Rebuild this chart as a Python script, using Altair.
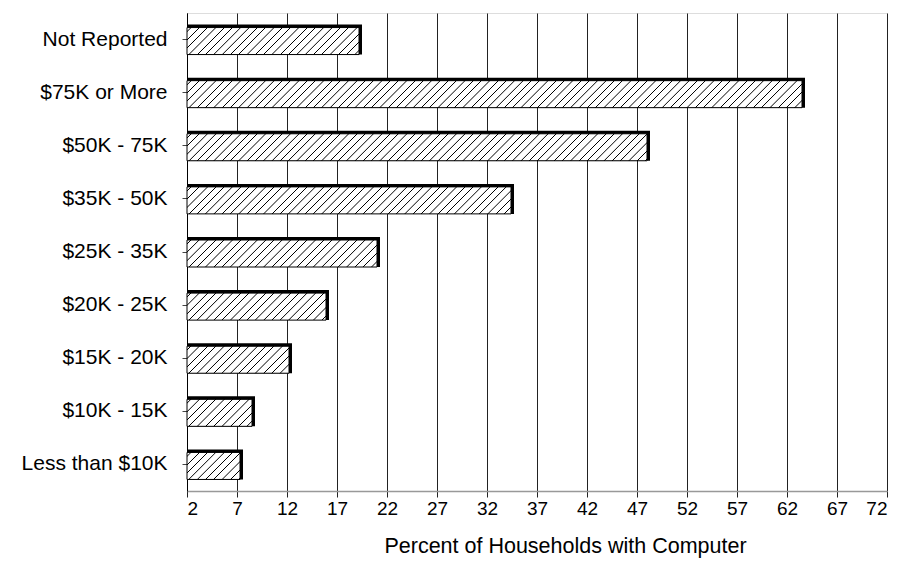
import altair as alt
import pandas as pd

# ---- data ----
categories = ["Not Reported", "$75K or More", "$50K - 75K", "$35K - 50K",
              "$25K - 35K", "$20K - 25K", "$15K - 20K", "$10K - 15K",
              "Less than $10K"]
values = [19.5, 63.8, 48.3, 34.7, 21.3, 16.2, 12.5, 8.8, 7.6]
tick_values = [2, 7, 12, 17, 22, 27, 32, 37, 42, 47, 52, 57, 62, 67, 72]

df = pd.DataFrame({"cat": categories, "v": values})

PLOT_W = 700
PLOT_H = 478
X_MIN, X_MAX = 2, 72
SHADOW = 3
BAR_H = 30
FONT = "Liberation Sans"


def hatch_gradient(value):
    """Diagonal '/' hatch built as a striped linear gradient for one bar."""
    W = (value - X_MIN) / (X_MAX - X_MIN) * PLOT_W - SHADOW
    H = BAR_H - SHADOW
    r = H / W
    k = (1 + r) / (1 + r * r)
    total = W + H
    period = 8.3
    stops = [alt.GradientStop(offset=0, color="white")]
    c = 4.0
    last = 0.0
    while c + 0.8 < total:
        for off, col in [(c - 0.75, "white"), (c - 0.25, "black"),
                         (c + 0.25, "black"), (c + 0.75, "white")]:
            o = max(off / total, last)
            stops.append(alt.GradientStop(offset=o, color=col))
            last = o
        c += period
    stops.append(alt.GradientStop(offset=1, color="white"))
    return alt.LinearGradient(gradient="linear", stops=stops,
                              x1=0, y1=0, x2=k, y2=k * r)


x_enc = alt.X("v:Q",
              scale=alt.Scale(domain=[X_MIN, X_MAX], nice=False, zero=False),
              axis=alt.Axis(values=tick_values,
                            title="Percent of Households with Computer",
                            grid=True, gridColor="#222", gridWidth=1,
                            gridOpacity=1,
                            domainColor="#999", domainWidth=1.5,
                            tickColor="#222", tickSize=6,
                            labelFont=FONT, labelFontSize=19,
                            labelColor="black", labelPadding=2,
                            titleFont=FONT, titleFontSize=21.5,
                            titleFontWeight="normal", titleColor="black",
                            titleX=378, titleAnchor="middle",
                            titlePadding=17))
y_enc = alt.Y("cat:N", sort=categories,
              scale=alt.Scale(paddingInner=0, paddingOuter=0),
              axis=alt.Axis(title=None, grid=False,
                            domainColor="black", domainWidth=1,
                            tickColor="#444", tickSize=5,
                            labelFont=FONT, labelFontSize=21,
                            labelColor="black", labelPadding=15,
                            labelAlign="right",
                            minExtent=174, maxExtent=174))

shadow = alt.Chart(df).mark_bar(height=BAR_H, color="black").encode(
    x=x_enc, x2=alt.datum(X_MIN), y=y_enc)

layers = [shadow]
for cat, val in zip(categories, values):
    layers.append(
        alt.Chart(df).transform_filter(alt.datum.cat == cat).mark_bar(
            height=BAR_H - SHADOW, yOffset=SHADOW / 2, xOffset=-SHADOW,
            fill=hatch_gradient(val), stroke="black", strokeWidth=1
        ).encode(x=alt.X("v:Q"), x2=alt.datum(X_MIN), y=alt.Y("cat:N", sort=categories))
    )

chart = alt.layer(*layers).properties(
    width=PLOT_W, height=PLOT_H,
    padding={"left": 5, "top": 5, "right": 5, "bottom": 5},
).configure_view(stroke=None).configure(background="white")

chart.save("out.html", embed_options={"renderer": "svg", "actions": False})
